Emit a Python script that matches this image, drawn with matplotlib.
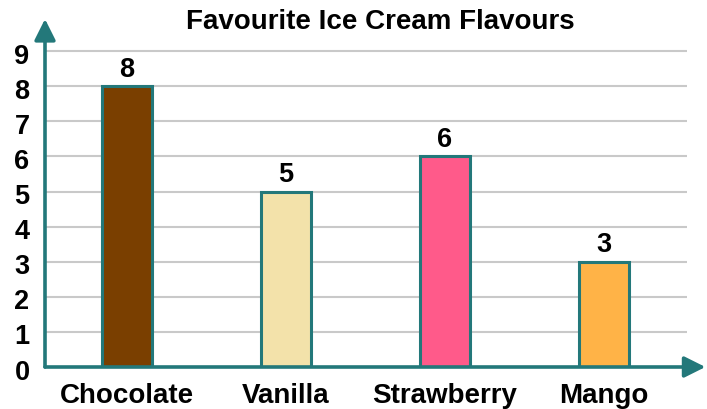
import matplotlib.pyplot as plt
import numpy as np

plt.rcParams['font.family'] = ['Liberation Sans', 'DejaVu Sans']

flavours = ['Chocolate', 'Vanilla', 'Strawberry', 'Mango']
votes = [8, 5, 6, 3]
bar_colors = ['#7A3F00', '#F3E2AA', '#FF5A8A', '#FFB347']
y_ticks = list(range(0, 10))

teal = '#23787A'
W, H = 707, 410
fig = plt.figure(figsize=(W / 100, H / 100), dpi=100)

# axes area in pixels: y-axis at x=45, x-axis at y=368 (from top)
x0, x1 = 45, 707
ybot, ytop = 368, 14
ax = fig.add_axes([x0 / W, (H - ybot) / H, (x1 - x0) / W, (ybot - ytop) / H])
unit_x = 159.0
unit_y = 35.1
xmin = (x0 - 127) / unit_x
xmax = (x1 - 127) / unit_x
ax.set_xlim(xmin, xmax)
ax.set_ylim(0, (ybot - ytop) / unit_y)
ax.axis('off')

x = np.arange(len(flavours))
grid_end = (687 - 127) / unit_x
ax.hlines(y_ticks[1:], xmin, grid_end, colors='#C9C9C9', lw=1.5, zorder=1)

ax.bar(x, votes, width=0.32, color=bar_colors, edgecolor=teal, linewidth=2.2, zorder=3)
for xi, v in zip(x, votes):
    ax.text(xi, v + 0.13, str(v), ha='center', va='bottom', fontsize=19.5,
            fontweight='bold', zorder=4)

# axes with arrows
arrow = dict(arrowstyle='-|>', color=teal, lw=2.6, mutation_scale=32,
             shrinkA=0, shrinkB=0)
ax.annotate('', xy=(xmax - 0.01, 0), xytext=(xmin, 0), arrowprops=arrow,
            annotation_clip=False, zorder=5)
ax.annotate('', xy=(xmin, (ybot - 20) / unit_y), xytext=(xmin, 0),
            arrowprops=arrow, annotation_clip=False, zorder=5)

for t in y_ticks:
    ax.text(xmin - 0.145, t - 0.13, str(t), ha='center', va='center', fontsize=19.5,
            fontweight='bold', clip_on=False)

for xi, name in zip(x, flavours):
    ax.text(xi, -0.8, name, ha='center', va='center', fontsize=20,
            fontweight='bold', clip_on=False)

fig.text(380 / W, 1 - 22 / H, 'Favourite Ice Cream Flavours', ha='center',
         va='center', fontsize=20, fontweight='bold')

fig.savefig('out.png', dpi=100)
